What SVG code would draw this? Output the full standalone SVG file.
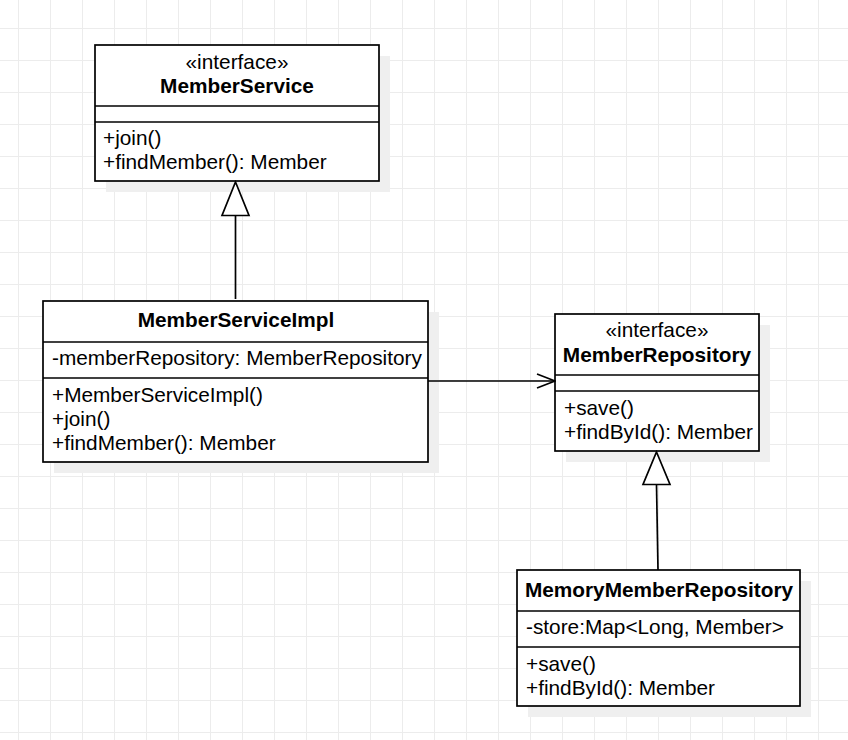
<svg xmlns="http://www.w3.org/2000/svg" width="848" height="740" viewBox="0 0 848 740">
<defs>
<pattern id="grid" x="18" y="28" width="32" height="32" patternUnits="userSpaceOnUse">
<path d="M0.5 0V32M0 0.5H32" fill="none" stroke="#ececec" stroke-width="1"/>
</pattern>
<marker id="open" viewBox="0 0 20 16" refX="19" refY="8" markerWidth="20" markerHeight="16" markerUnits="userSpaceOnUse" orient="auto">
<path d="M1 1L19 8L1 15" fill="none" stroke="#000" stroke-width="1.7"/>
</marker>
</defs>
<style>
.box{fill:#fff;stroke:#000;stroke-width:1.7}
.shadow{fill:#efefef}
.div{stroke:#000;stroke-width:1.7}
text{font-family:"Liberation Sans",Arial,sans-serif;font-size:20.8px;fill:#000}
.b{font-weight:bold}
.c{text-anchor:middle}
.edge{fill:none;stroke:#000;stroke-width:1.7}
.tri{fill:#fff;stroke:#000;stroke-width:1.7}
</style>
<rect x="0" y="0" width="848" height="740" fill="#fff"/>
<rect x="0" y="0" width="848" height="740" fill="url(#grid)"/>

<g id="MemberService">
<rect class="shadow" x="106" y="56" width="284" height="136"/>
<rect class="box" x="95" y="45" width="284" height="136"/>
<line class="div" x1="95" y1="106" x2="379" y2="106"/>
<line class="div" x1="95" y1="122" x2="379" y2="122"/>
<text class="c" x="237" y="69">«interface»</text>
<text class="c b" x="237" y="93">MemberService</text>
<text x="103" y="145">+join()</text>
<text x="103" y="169">+findMember(): Member</text>
</g>

<g id="MemberServiceImpl">
<rect class="shadow" x="54" y="312" width="385" height="161"/>
<rect class="box" x="43" y="301" width="385" height="161"/>
<line class="div" x1="43" y1="342" x2="428" y2="342"/>
<line class="div" x1="43" y1="378" x2="428" y2="378"/>
<text class="c b" x="236" y="327">MemberServiceImpl</text>
<text x="52" y="365">-memberRepository: MemberRepository</text>
<text x="52" y="402">+MemberServiceImpl()</text>
<text x="52" y="426">+join()</text>
<text x="52" y="450">+findMember(): Member</text>
</g>

<g id="MemberRepository">
<rect class="shadow" x="566" y="325" width="204" height="137"/>
<rect class="box" x="555" y="314" width="204" height="137"/>
<line class="div" x1="555" y1="375" x2="759" y2="375"/>
<line class="div" x1="555" y1="391" x2="759" y2="391"/>
<text class="c" x="657" y="337">«interface»</text>
<text class="c b" x="657" y="362">MemberRepository</text>
<text x="564" y="415">+save()</text>
<text x="564" y="439">+findById(): Member</text>
</g>

<g id="MemoryMemberRepository">
<rect class="shadow" x="528" y="581" width="283" height="136"/>
<rect class="box" x="517" y="570" width="283" height="136"/>
<line class="div" x1="517" y1="611" x2="800" y2="611"/>
<line class="div" x1="517" y1="647" x2="800" y2="647"/>
<text class="c b" x="659" y="597">MemoryMemberRepository</text>
<text x="526" y="634">-store:Map&lt;Long, Member&gt;</text>
<text x="526" y="671">+save()</text>
<text x="526" y="695">+findById(): Member</text>
</g>

<g id="connectors">
<line class="edge" x1="235.5" y1="299" x2="235.5" y2="215"/>
<path class="tri" d="M235.5 182L249 215.5L222 215.5Z"/>
<line class="edge" x1="428" y1="381" x2="555" y2="381" marker-end="url(#open)"/>
<line class="edge" x1="658" y1="570" x2="656.5" y2="484"/>
<path class="tri" d="M656.5 452L670 484.5L643 484.5Z"/>
</g>
</svg>
